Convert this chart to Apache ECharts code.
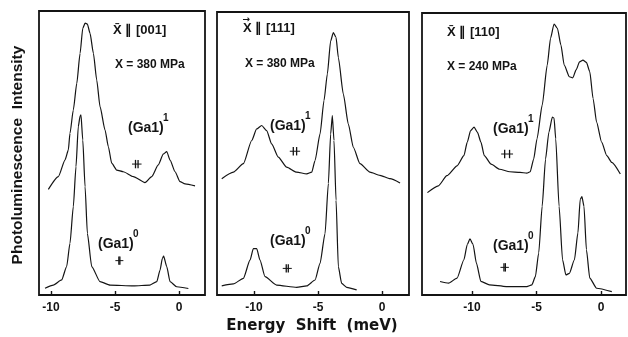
<!DOCTYPE html>
<html>
<head>
<meta charset="utf-8">
<script src="https://cdn.jsdelivr.net/npm/echarts@6/dist/echarts.min.js"></script>
<style>
  html, body { margin: 0; padding: 0; background: #fff; }
  #chart { width: 628px; height: 337px; }
</style>
</head>
<body>
<div id="chart"></div>
<script>
// Photoluminescence spectra of the Ga acceptor under uniaxial stress.
// Each trace: [energy shift (meV), relative intensity (0..100 of panel height)].

// X || [001], 380 MPa
const ga1Stress001 = [
  [-10.21, 37.2], [-9.43, 41.7], [-8.91, 47.5], [-8.65, 51.0], [-8.52, 56.9], [-8.26, 65.1],
  [-7.99, 74.5], [-7.73, 85.1], [-7.52, 93.9], [-7.34, 95.7], [-7.16, 95.4],
  [-6.95, 92.1], [-6.69, 85.1], [-6.43, 75.7], [-6.17, 66.3], [-5.78, 58.1],
  [-5.52, 52.2], [-5.26, 46.4], [-4.87, 44.0], [-4.35, 43.4], [-3.57, 41.7],
  [-2.66, 39.6], [-2.13, 41.7], [-1.62, 45.8], [-1.23, 49.6], [-0.96, 50.5],
  [-0.70, 47.5], [-0.31, 43.4], [0.08, 39.9], [0.47, 39.1], [1.25, 38.4]
];
const ga0Stress001 = [
  [-10.47, 2.4], [-9.82, 3.5], [-9.17, 5.3], [-8.78, 10.0], [-8.52, 18.2],
  [-8.26, 31.1], [-8.05, 45.2], [-7.87, 59.3], [-7.73, 63.0], [-7.66, 63.4],
  [-7.52, 54.6], [-7.34, 38.1], [-7.16, 21.7], [-6.82, 10.0], [-6.17, 4.7],
  [-5.39, 3.5], [-3.57, 3.2], [-2.27, 3.5], [-1.74, 4.7], [-1.48, 8.8],
  [-1.30, 12.9], [-1.20, 13.7], [-0.96, 10.0], [-0.70, 4.7], [-0.18, 2.9],
  [0.73, 2.3]
];

// X || [111], 380 MPa
const ga1Stress111 = [
  [-12.52, 41.1], [-11.61, 43.4], [-10.83, 46.4], [-10.18, 54.6], [-9.79, 58.7],
  [-9.40, 59.9], [-9.01, 58.1], [-8.62, 53.4], [-8.10, 48.7], [-7.45, 45.2],
  [-6.67, 43.4], [-5.88, 42.8], [-5.49, 43.4], [-5.23, 47.5], [-4.84, 56.9],
  [-4.53, 68.7], [-4.27, 78.1], [-4.01, 89.8], [-3.80, 92.7], [-3.59, 91.0],
  [-3.41, 83.9], [-3.02, 71.0], [-2.63, 60.4], [-2.24, 52.2], [-1.72, 46.4],
  [-0.94, 43.4], [-0.16, 42.3], [0.63, 41.1], [1.41, 39.6]
];
const ga0Stress111 = [
  [-12.52, 3.2], [-11.61, 3.9], [-10.83, 5.9], [-10.31, 12.3], [-10.05, 16.4],
  [-9.79, 16.4], [-9.53, 12.3], [-9.14, 6.5], [-8.23, 3.5], [-6.67, 2.7],
  [-5.88, 3.2], [-5.23, 5.3], [-4.84, 11.2], [-4.45, 21.7], [-4.19, 39.4],
  [-4.01, 56.9], [-3.88, 63.4], [-3.75, 54.6], [-3.59, 33.5], [-3.41, 10.0],
  [-3.15, 4.1], [-2.76, 2.7], [-1.98, 1.8]
];

// X || [110], 240 MPa
const ga1Stress110 = [
  [-13.46, 36.3], [-12.61, 38.7], [-11.95, 42.3], [-11.16, 45.8], [-10.63, 49.4],
  [-10.37, 54.2], [-10.11, 58.3], [-9.84, 59.5], [-9.58, 57.7], [-9.31, 54.2],
  [-9.05, 49.4], [-8.52, 46.4], [-7.86, 44.6], [-7.07, 43.7], [-6.28, 43.5],
  [-5.75, 43.2], [-5.49, 43.7], [-5.22, 48.2], [-4.96, 55.4], [-4.56, 67.3],
  [-4.17, 81.5], [-3.91, 91.1], [-3.64, 96.1], [-3.38, 94.6], [-3.11, 88.7],
  [-2.85, 81.5], [-2.45, 77.4], [-2.19, 77.0], [-1.93, 79.8], [-1.66, 82.7],
  [-1.40, 83.3], [-1.13, 82.5], [-0.87, 79.2], [-0.61, 69.6], [-0.34, 61.3],
  [0.05, 54.2], [0.45, 49.4], [0.84, 47.0], [1.50, 42.9]
];
const ga0Stress110 = [
  [-12.48, 4.8], [-11.82, 4.2], [-11.16, 6.0], [-10.63, 12.5], [-10.37, 17.9],
  [-10.16, 19.9], [-9.92, 17.9], [-9.66, 11.3], [-9.31, 4.8], [-8.65, 3.6],
  [-7.34, 3.0], [-5.75, 3.0], [-5.36, 3.6], [-5.09, 6.5], [-4.83, 14.9],
  [-4.56, 31.5], [-4.30, 48.2], [-4.04, 57.7], [-3.77, 63.1], [-3.64, 62.7],
  [-3.51, 55.4], [-3.25, 31.5], [-2.98, 12.5], [-2.72, 7.1], [-2.45, 7.7],
  [-2.06, 12.5], [-1.79, 22.0], [-1.61, 33.9], [-1.48, 34.9], [-1.32, 31.5],
  [-1.13, 16.1], [-0.87, 6.0], [-0.34, 2.4], [0.84, 1.2]
];

// Spectral resolution markers: [centre (meV), level, half separation of bars (meV)]
const resolution001 = [[-3.30, 46.1, 0.10], [-4.66, 12.1, 0.04]];
const resolution111 = [[-6.80, 50.8, 0.13], [-7.40, 9.4, 0.08]];
const resolution110 = [[-7.28, 50.0, 0.19], [-7.47, 9.8, 0.055]];

// Energy axis ranges and ticks
const energyRanges = [[-10.94, 2.03], [-12.89, 2.11], [-13.88, 1.94]];
const tickValues = [-10, -5, 0];

const stressDirections = ['X\u0304 \u2225 [001]', 'X \u2225 [111]', 'X\u0304 \u2225 [110]'];
const stressValues = ['X = 380 MPa', 'X = 380 MPa', 'X = 240 MPa'];
const stateLabels = ['(Ga1)', '(Ga1)'];
const stateSuperscripts = ['1', '0'];

const chart = echarts.init(document.getElementById('chart'), null, { renderer: 'canvas' });

const grids = [
  { left: 39, top: 11, width: 166, height: 284 },
  { left: 217, top: 12, width: 192, height: 283 },
  { left: 422, top: 13, width: 204, height: 282 }
];

const INK = '#141414';
const FONT = 'Liberation Sans';
const WIDE = 'DejaVu Sans';

function renderResolution(params, api) {
  const c = api.coord([api.value(0), api.value(1)]);
  const half = api.size([api.value(2), 0])[0];
  const w = half + 3.5;
  const h = 4.2;
  return {
    type: 'group',
    children: [
      { type: 'line', shape: { x1: c[0] - w, y1: c[1], x2: c[0] + w, y2: c[1] },
        style: { stroke: INK, lineWidth: 1 } },
      { type: 'line', shape: { x1: c[0] - half, y1: c[1] - h, x2: c[0] - half, y2: c[1] + h },
        style: { stroke: INK, lineWidth: 1.3 } },
      { type: 'line', shape: { x1: c[0] + half, y1: c[1] - h, x2: c[0] + half, y2: c[1] + h },
        style: { stroke: INK, lineWidth: 1.3 } }
    ]
  };
}

const traces = [
  [ga1Stress001, ga0Stress001],
  [ga1Stress111, ga0Stress111],
  [ga1Stress110, ga0Stress110]
];
const resolutions = [resolution001, resolution111, resolution110];

const xAxes = energyRanges.map((r, i) => ({
  type: 'value',
  gridIndex: i,
  min: r[0],
  max: r[1],
  axisLine: { show: false },
  splitLine: { show: false },
  axisTick: {
    show: true, inside: true, length: 4, customValues: tickValues,
    lineStyle: { color: INK, width: 1.4 }
  },
  axisLabel: {
    show: true, customValues: tickValues, margin: 7,
    color: INK, fontFamily: FONT, fontWeight: 'bold', fontSize: 12,
    formatter: v => (v < 0 ? '-' + Math.abs(v) : String(v))
  }
}));

const yAxes = grids.map((g, i) => ({
  type: 'value', gridIndex: i, min: 0, max: 100, show: false
}));

const series = [];
traces.forEach((pair, i) => {
  pair.forEach(data => {
    series.push({
      type: 'line', xAxisIndex: i, yAxisIndex: i, data: data,
      showSymbol: false, smooth: 0.2, smoothMonotone: 'x', silent: true,
      lineStyle: { color: INK, width: 1.2 }
    });
  });
  series.push({
    type: 'custom', xAxisIndex: i, yAxisIndex: i, data: resolutions[i],
    renderItem: renderResolution, silent: true
  });
});

// Text annotations inside each panel
const headerPos = [[113, 30], [243, 28], [447, 32]];
const stressPos = [[115, 65], [245, 64], [447, 67]];
const upperLabelPos = [[128, 128], [270, 126], [493, 129]];
const lowerLabelPos = [[98, 244], [270, 241], [493, 246]];

const graphic = [];
headerPos.forEach((p, i) => {
  graphic.push({ type: 'text', x: p[0], y: p[1],
    style: { text: stressDirections[i], fill: INK, font: 'bold 13px "' + FONT + '"',
             verticalAlign: 'middle' } });
  graphic.push({ type: 'text', x: stressPos[i][0], y: stressPos[i][1],
    style: { text: stressValues[i], fill: INK, font: 'bold 12px "' + FONT + '"',
             verticalAlign: 'middle' } });
  [upperLabelPos[i], lowerLabelPos[i]].forEach((q, k) => {
    graphic.push({ type: 'text', x: q[0], y: q[1],
      style: { text: stateLabels[k], fill: INK, font: 'bold 14px "' + FONT + '"',
               verticalAlign: 'middle' } });
    graphic.push({ type: 'text', x: q[0] + 35, y: q[1] - 10,
      style: { text: stateSuperscripts[k], fill: INK, font: 'bold 10px "' + FONT + '"',
               verticalAlign: 'middle' } });
  });
});
// vector arrow over the X of the [111] header
graphic.push({ type: 'text', x: headerPos[1][0] - 0.5, y: headerPos[1][1] - 8,
  style: { text: '\u2192', fill: INK, font: 'bold 9px "' + WIDE + '"', verticalAlign: 'middle' } });

// Axis titles
graphic.push({ type: 'text', x: 18, y: 155, rotation: Math.PI / 2,
  style: { text: 'Photoluminescence  Intensity', fill: INK,
           font: 'bold 15.5px "' + FONT + '"', align: 'center', verticalAlign: 'middle' } });
graphic.push({ type: 'text', x: 312, y: 326,
  style: { text: 'Energy  Shift  (meV)', fill: INK,
           font: 'bold 15px "' + WIDE + '"', align: 'center', verticalAlign: 'middle' } });

chart.setOption({
  animation: false,
  backgroundColor: '#ffffff',
  grid: grids.map(g => Object.assign({ show: true, borderColor: INK, borderWidth: 1.8,
                                       backgroundColor: 'transparent' }, g)),
  xAxis: xAxes,
  yAxis: yAxes,
  series: series,
  graphic: graphic
});
</script>
</body>
</html>
